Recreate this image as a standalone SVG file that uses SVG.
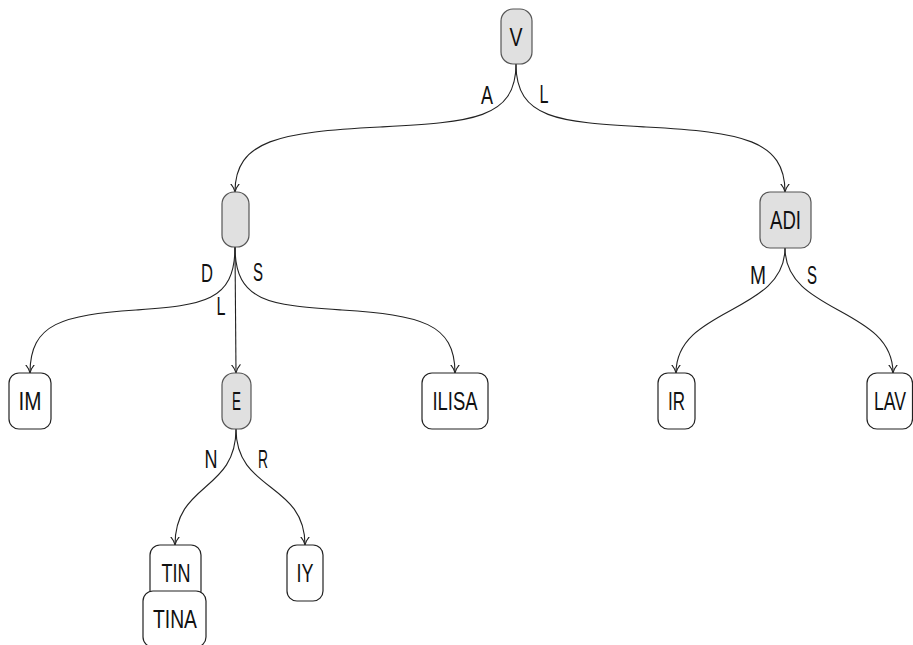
<svg xmlns="http://www.w3.org/2000/svg" width="913" height="645" viewBox="0 0 913 645">
<style>
.bg{fill:#ffffff}
.inner rect{fill:#e0e0e0;stroke:#555555;stroke-width:1.2}
.leaf rect{fill:#ffffff;stroke:#222222;stroke-width:1.2}
text{font-family:"Liberation Sans",Arial,sans-serif;font-size:26px;fill:#111111;text-anchor:middle}
.edges path{fill:none;stroke:#222222;stroke-width:1.1;marker-end:url(#arr)}
</style>
<defs>
<marker id="arr" viewBox="0 -5 9 10" refX="8.5" refY="0" markerWidth="9" markerHeight="10" markerUnits="userSpaceOnUse" orient="auto">
<path d="M0,-4.5 Q4,-1 8.5,0 Q4,1 0,4.5" fill="none" stroke="#222222" stroke-width="1.1"/>
</marker>
</defs>
<rect class="bg" x="0" y="0" width="913" height="645"/>
<g id="connectors" class="edges">
<path d="M516,64 C516,120 470,122 380,127 C280,132 235,140 235,192"/>
<path d="M516,64 C516,120 560,122 646,127 C742,132 785,140 785,192"/>
<path d="M235,247 C235,303 201,305 136,310 C63,315 30,323 30,373"/>
<path d="M235,247 L236,373"/>
<path d="M235,247 C235,303 271,305 342,310 C420,315 455,323 455,373"/>
<path d="M785,248 C785,314 676,307 676,373"/>
<path d="M785,248 C785,314 893,307 893,373"/>
<path d="M236,429 C236,492 175,482 175,545"/>
<path d="M236,429 C236,492 305,482 305,545"/>
</g>
<g id="edge-labels">
<text x="487" y="104" textLength="12" lengthAdjust="spacingAndGlyphs">A</text>
<text x="544" y="103" textLength="9" lengthAdjust="spacingAndGlyphs">L</text>
<text x="207" y="282" textLength="12" lengthAdjust="spacingAndGlyphs">D</text>
<text x="258" y="281" textLength="10" lengthAdjust="spacingAndGlyphs">S</text>
<text x="221" y="315" textLength="9" lengthAdjust="spacingAndGlyphs">L</text>
<text x="211" y="468" textLength="13" lengthAdjust="spacingAndGlyphs">N</text>
<text x="263" y="468" textLength="10" lengthAdjust="spacingAndGlyphs">R</text>
<text x="758" y="284" textLength="16" lengthAdjust="spacingAndGlyphs">M</text>
<text x="812" y="284" textLength="10" lengthAdjust="spacingAndGlyphs">S</text>
</g>
<g id="node-V" class="inner"><rect x="501" y="9" width="31" height="55" rx="12"/><text x="516" y="46" textLength="13" lengthAdjust="spacingAndGlyphs">V</text></g>
<g id="node-root-A" class="inner"><rect x="222" y="192" width="27" height="55" rx="12"/></g>
<g id="node-ADI" class="inner"><rect x="760" y="192" width="51" height="56" rx="10"/><text x="785.5" y="229" textLength="31" lengthAdjust="spacingAndGlyphs">ADI</text></g>
<g id="node-IM" class="leaf"><rect x="9" y="373" width="42" height="56" rx="10"/><text x="30" y="410" textLength="23" lengthAdjust="spacingAndGlyphs">IM</text></g>
<g id="node-E" class="inner"><rect x="222" y="373" width="29" height="56" rx="12"/><text x="236.5" y="410" textLength="9" lengthAdjust="spacingAndGlyphs">E</text></g>
<g id="node-ILISA" class="leaf"><rect x="422" y="373" width="66" height="56" rx="10"/><text x="455" y="410" textLength="45" lengthAdjust="spacingAndGlyphs">ILISA</text></g>
<g id="node-IR" class="leaf"><rect x="658" y="373" width="37" height="56" rx="10"/><text x="676.5" y="410" textLength="17" lengthAdjust="spacingAndGlyphs">IR</text></g>
<g id="node-LAV" class="leaf"><rect x="867" y="373" width="45.5" height="56" rx="10"/><text x="890" y="410" textLength="32" lengthAdjust="spacingAndGlyphs">LAV</text></g>
<g id="node-TIN" class="leaf"><rect x="150" y="545" width="51" height="56" rx="10"/><text x="176" y="582" textLength="29" lengthAdjust="spacingAndGlyphs">TIN</text></g>
<g id="node-TINA" class="leaf"><rect x="143" y="591" width="63" height="56" rx="10"/><text x="175" y="628" textLength="44" lengthAdjust="spacingAndGlyphs">TINA</text></g>
<g id="node-IY" class="leaf"><rect x="287" y="545" width="36" height="56" rx="10"/><text x="305" y="582" textLength="17" lengthAdjust="spacingAndGlyphs">IY</text></g>
</svg>
